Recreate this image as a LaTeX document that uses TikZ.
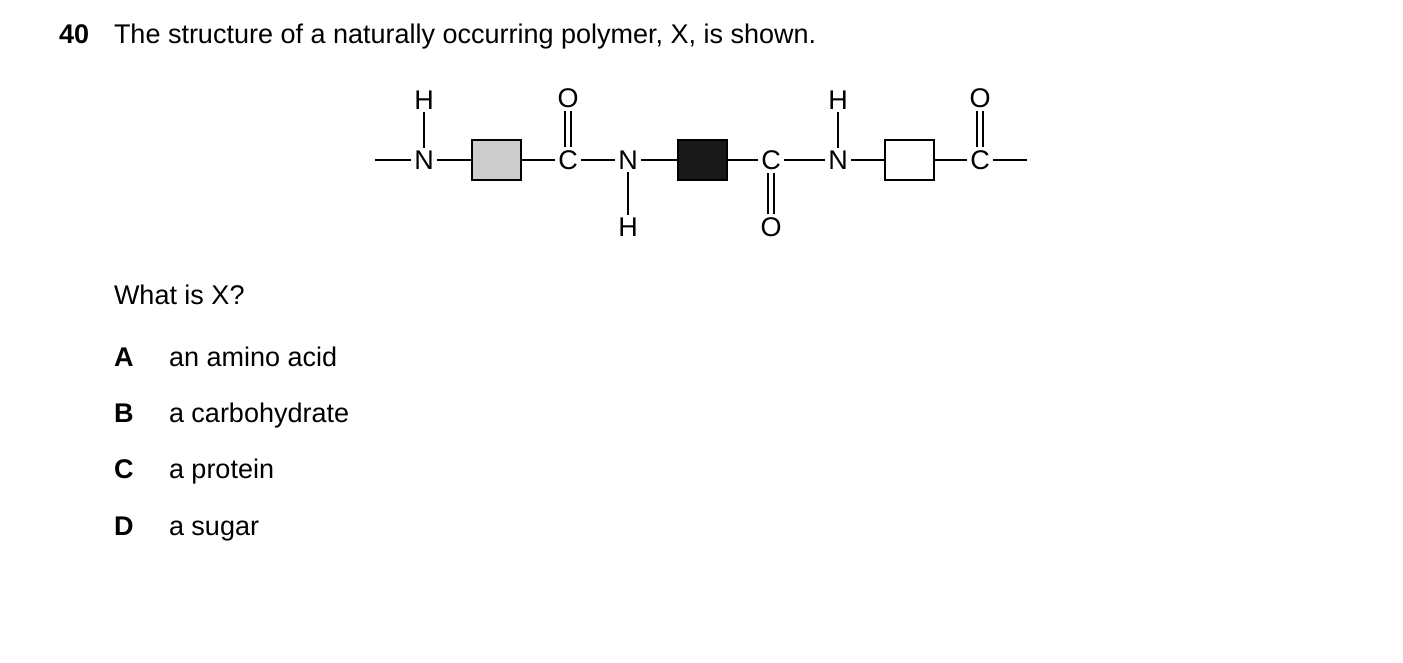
\documentclass[tikz,border=0pt]{standalone}
\usepackage{fontspec}
\setmainfont{Liberation Sans}
\usetikzlibrary{positioning}

\begin{document}
\begin{tikzpicture}[
	x = 1pt, y = -1pt,
	line width = 2pt, % bond style
	txt/.style={anchor=base west, inner sep=0pt, font=\fontsize{27}{30}\selectfont},
	atom/.style={inner sep=2pt, font=\fontsize{27}{30}\selectfont},
	box/.style={draw=black, minimum width=49pt, minimum height=40pt, inner sep=0pt},
	dbl/.style={double, double distance=4pt, line width=1.6pt},
	]
	\useasboundingbox (0,0) rectangle (1403,663);

	% Question text
	\node[txt, font=\bfseries\fontsize{27}{30}\selectfont] (num) at (58,44) {40};
	\node[txt] (q) at (113,44) {The structure of a naturally occurring polymer, X, is shown.};
	\node[txt] (what) at (113,304) {What is X?};
	\node[txt, font=\bfseries\fontsize{27}{30}\selectfont] (la) at (113,366) {A};
	\node[txt] (ta) at (168,366) {an amino acid};
	\node[txt, font=\bfseries\fontsize{27}{30}\selectfont] (lb) at (113,422) {B};
	\node[txt] (tb) at (168,422) {a carbohydrate};
	\node[txt, font=\bfseries\fontsize{27}{30}\selectfont] (lc) at (113,478) {C};
	\node[txt] (tc) at (168,478) {a protein};
	\node[txt, font=\bfseries\fontsize{27}{30}\selectfont] (ld) at (113,535) {D};
	\node[txt] (td) at (168,535) {a sugar};

	% Chain atoms and residues
	\coordinate (L) at (375,160);
	\node[atom] (N1) at (424,160) {N};
	\node[box, fill=black!20] (R1) at (496,160) {};
	\node[atom] (C1) at (568,160) {C};
	\node[atom] (N2) at (628,160) {N};
	\node[box, fill=black!90] (R2) at (702,160) {};
	\node[atom] (C2) at (771,160) {C};
	\node[atom] (N3) at (838,160) {N};
	\node[box, fill=white] (R3) at (909,160) {};
	\node[atom] (C3) at (980,160) {C};
	\coordinate (R) at (1027,160);
	% side groups
	\node[atom] (H1) at (424,100) {H};
	\node[atom] (O1) at (568,98) {O};
	\node[atom] (H2) at (628,227) {H};
	\node[atom] (O2) at (771,227) {O};
	\node[atom] (H3) at (838,100) {H};
	\node[atom] (O3) at (980,98) {O};

	% Bonds
	\draw (L) -- (N1) -- (R1) -- (C1) -- (N2) -- (R2) -- (C2) -- (N3) -- (R3) -- (C3) -- (R);
	\draw (N1) -- (H1);
	\draw (N2) -- (H2);
	\draw (N3) -- (H3);
	\draw[dbl] (C1) -- (O1);
	\draw[dbl] (C2) -- (O2);
	\draw[dbl] (C3) -- (O3);
\end{tikzpicture}
\end{document}
